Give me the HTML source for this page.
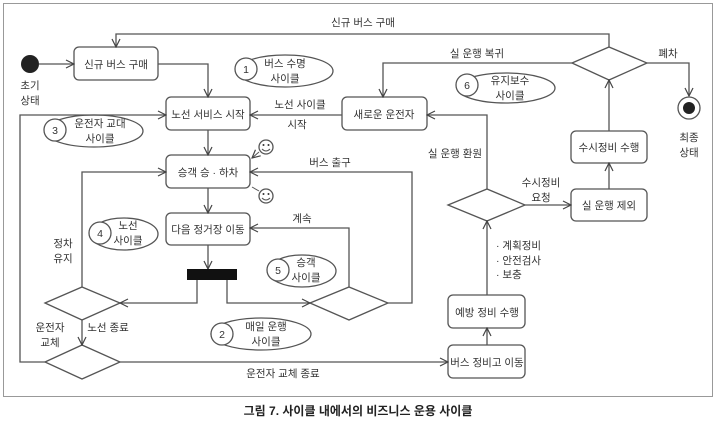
<!DOCTYPE html>
<html><head><meta charset="utf-8"><style>
html,body{margin:0;padding:0;background:#fff;}
svg{display:block;font-family:"Liberation Sans","Noto Sans CJK KR",sans-serif;}
text{font-size:10.5px;fill:#333;text-anchor:middle;}
</style></head><body>
<svg width="716" height="425" viewBox="0 0 716 425">
<defs>
<marker id="a" markerWidth="10" markerHeight="10" refX="9" refY="5" orient="auto" markerUnits="userSpaceOnUse">
<path d="M1,1 L9,5 L1,9" fill="none" stroke="#444" stroke-width="1.2"/>
</marker>
</defs>
<rect x="3.5" y="3.5" width="709" height="393" fill="#fff" stroke="#999" stroke-width="1"/>
<g fill="none" stroke="#555" stroke-width="1.3">
<rect x="74" y="47" width="84" height="33" rx="5"/>
<rect x="166" y="97" width="84" height="33" rx="5"/>
<rect x="166" y="155" width="84" height="33" rx="5"/>
<rect x="166" y="213" width="84" height="32" rx="5"/>
<rect x="342" y="97" width="85" height="33" rx="5"/>
<rect x="448" y="295" width="77" height="33" rx="5"/>
<rect x="448" y="345" width="77" height="33" rx="5"/>
<rect x="571" y="189" width="76" height="32" rx="5"/>
<rect x="571" y="131" width="76" height="32" rx="5"/>
<path d="M45,303 L82,287 L120,303 L82,320 Z"/>
<path d="M45,362 L82,345 L120,362 L82,379 Z"/>
<path d="M310,303 L349,287 L388,303 L349,320 Z"/>
<path d="M448,205 L487,189 L525,205 L487,221 Z"/>
<path d="M572,63 L609,47 L647,63 L609,80 Z"/>
<path d="M39,64 L74,64" marker-end="url(#a)"/>
<path d="M158,64 L208,64 L208,97" marker-end="url(#a)"/>
<path d="M208,130 L208,155" marker-end="url(#a)"/>
<path d="M208,188 L208,213" marker-end="url(#a)"/>
<path d="M208,245 L208,269" marker-end="url(#a)"/>
<path d="M197,280 L197,303 L120,303" marker-end="url(#a)"/>
<path d="M227,280 L227,303 L310,303" marker-end="url(#a)"/>
<path d="M388,303 L412,303 L412,172 L250,172" marker-end="url(#a)"/>
<path d="M349,287 L349,228 L250,228" marker-end="url(#a)"/>
<path d="M82,287 L82,172 L166,172" marker-end="url(#a)"/>
<path d="M82,320 L82,345" marker-end="url(#a)"/>
<path d="M45,362 L20,362 L20,115 L166,115" marker-end="url(#a)"/>
<path d="M120,362 L448,362" marker-end="url(#a)"/>
<path d="M487,345 L487,328" marker-end="url(#a)"/>
<path d="M487,295 L487,221" marker-end="url(#a)"/>
<path d="M487,189 L487,115 L427,115" marker-end="url(#a)"/>
<path d="M342,115 L250,115" marker-end="url(#a)"/>
<path d="M525,205 L571,205" marker-end="url(#a)"/>
<path d="M609,189 L609,163" marker-end="url(#a)"/>
<path d="M609,131 L609,80" marker-end="url(#a)"/>
<path d="M572,63 L383,63 L383,97" marker-end="url(#a)"/>
<path d="M609,47 L609,34 L116,34 L116,47" marker-end="url(#a)"/>
<path d="M647,63 L689,63 L689,96" marker-end="url(#a)"/>
<ellipse cx="285" cy="71" rx="48" ry="16"/><circle cx="246" cy="69" r="11" fill="#fff"/>
<ellipse cx="94" cy="131" rx="49" ry="16"/><circle cx="55" cy="130" r="11" fill="#fff"/>
<ellipse cx="124" cy="234" rx="34" ry="16"/><circle cx="100" cy="233" r="11" fill="#fff"/>
<ellipse cx="302" cy="271" rx="34" ry="16"/><circle cx="278" cy="270" r="11" fill="#fff"/>
<ellipse cx="261" cy="334" rx="50" ry="16"/><circle cx="222" cy="334" r="11" fill="#fff"/>
<ellipse cx="506" cy="88" rx="49" ry="15"/><circle cx="467" cy="85" r="11" fill="#fff"/>
<circle cx="266" cy="147" r="7"/><path d="M262,149 Q266,153 270,149" stroke-width="1"/>
<path d="M259,152 L252,158" marker-end="url(#a)" stroke-width="1"/>
<circle cx="266" cy="196" r="7"/><path d="M262,198 Q266,202 270,198" stroke-width="1"/>
<path d="M259,191 L252,187" stroke-width="1"/>
<circle cx="689" cy="108" r="11"/>
</g>
<circle cx="30" cy="64" r="9" fill="#222"/>
<circle cx="689" cy="108" r="6" fill="#222"/>
<rect x="187" y="269" width="50" height="11" fill="#111"/>
<g fill="#333"><circle cx="263.5" cy="145" r="1"/><circle cx="268.5" cy="145" r="1"/><circle cx="263.5" cy="194" r="1"/><circle cx="268.5" cy="194" r="1"/></g>
<text x="116" y="68">신규 버스 구매</text>
<text x="208" y="118">노선 서비스 시작</text>
<text x="208" y="176">승객 승 · 하차</text>
<text x="208" y="233">다음 정거장 이동</text>
<text x="384" y="118">새로운 운전자</text>
<text x="487" y="316">예방 정비 수행</text>
<text x="487" y="366">버스 정비고 이동</text>
<text x="609" y="209">실 운행 제외</text>
<text x="609" y="151">수시정비 수행</text>
<text x="246" y="73">1</text><text x="285" y="67">버스 수명</text><text x="285" y="82">사이클</text>
<text x="55" y="134">3</text><text x="100" y="127">운전자 교대</text><text x="100" y="142">사이클</text>
<text x="100" y="237">4</text><text x="128" y="229">노선</text><text x="128" y="244">사이클</text>
<text x="278" y="274">5</text><text x="306" y="266">승객</text><text x="306" y="281">사이클</text>
<text x="222" y="338">2</text><text x="266" y="330">매일 운행</text><text x="266" y="345">사이클</text>
<text x="467" y="89">6</text><text x="510" y="84">유지보수</text><text x="510" y="99">사이클</text>
<text x="30" y="89">초기</text><text x="30" y="104">상태</text>
<text x="689" y="141">최종</text><text x="689" y="156">상태</text>
<text x="363" y="26">신규 버스 구매</text>
<text x="477" y="57">실 운행 복귀</text>
<text x="668" y="57">폐차</text>
<text x="300" y="108">노선 사이클</text>
<text x="297" y="128">시작</text>
<text x="330" y="166">버스 출구</text>
<text x="302" y="222">계속</text>
<text x="63" y="247">정차</text><text x="63" y="262">유지</text>
<text x="108" y="331">노선 종료</text>
<text x="50" y="331">운전자</text><text x="50" y="346">교체</text>
<text x="283" y="377">운전자 교체 종료</text>
<text x="455" y="157">실 운행 환원</text>
<text x="541" y="186">수시정비</text><text x="541" y="201">요청</text>
<text x="496" y="249" style="text-anchor:start">· 계획정비</text>
<text x="496" y="264" style="text-anchor:start">· 안전검사</text>
<text x="496" y="278" style="text-anchor:start">· 보충</text>
<text x="358" y="415" style="font-size:12px;font-weight:bold;fill:#222">그림 7. 사이클 내에서의 비즈니스 운용 사이클</text>
</svg>
</body></html>
